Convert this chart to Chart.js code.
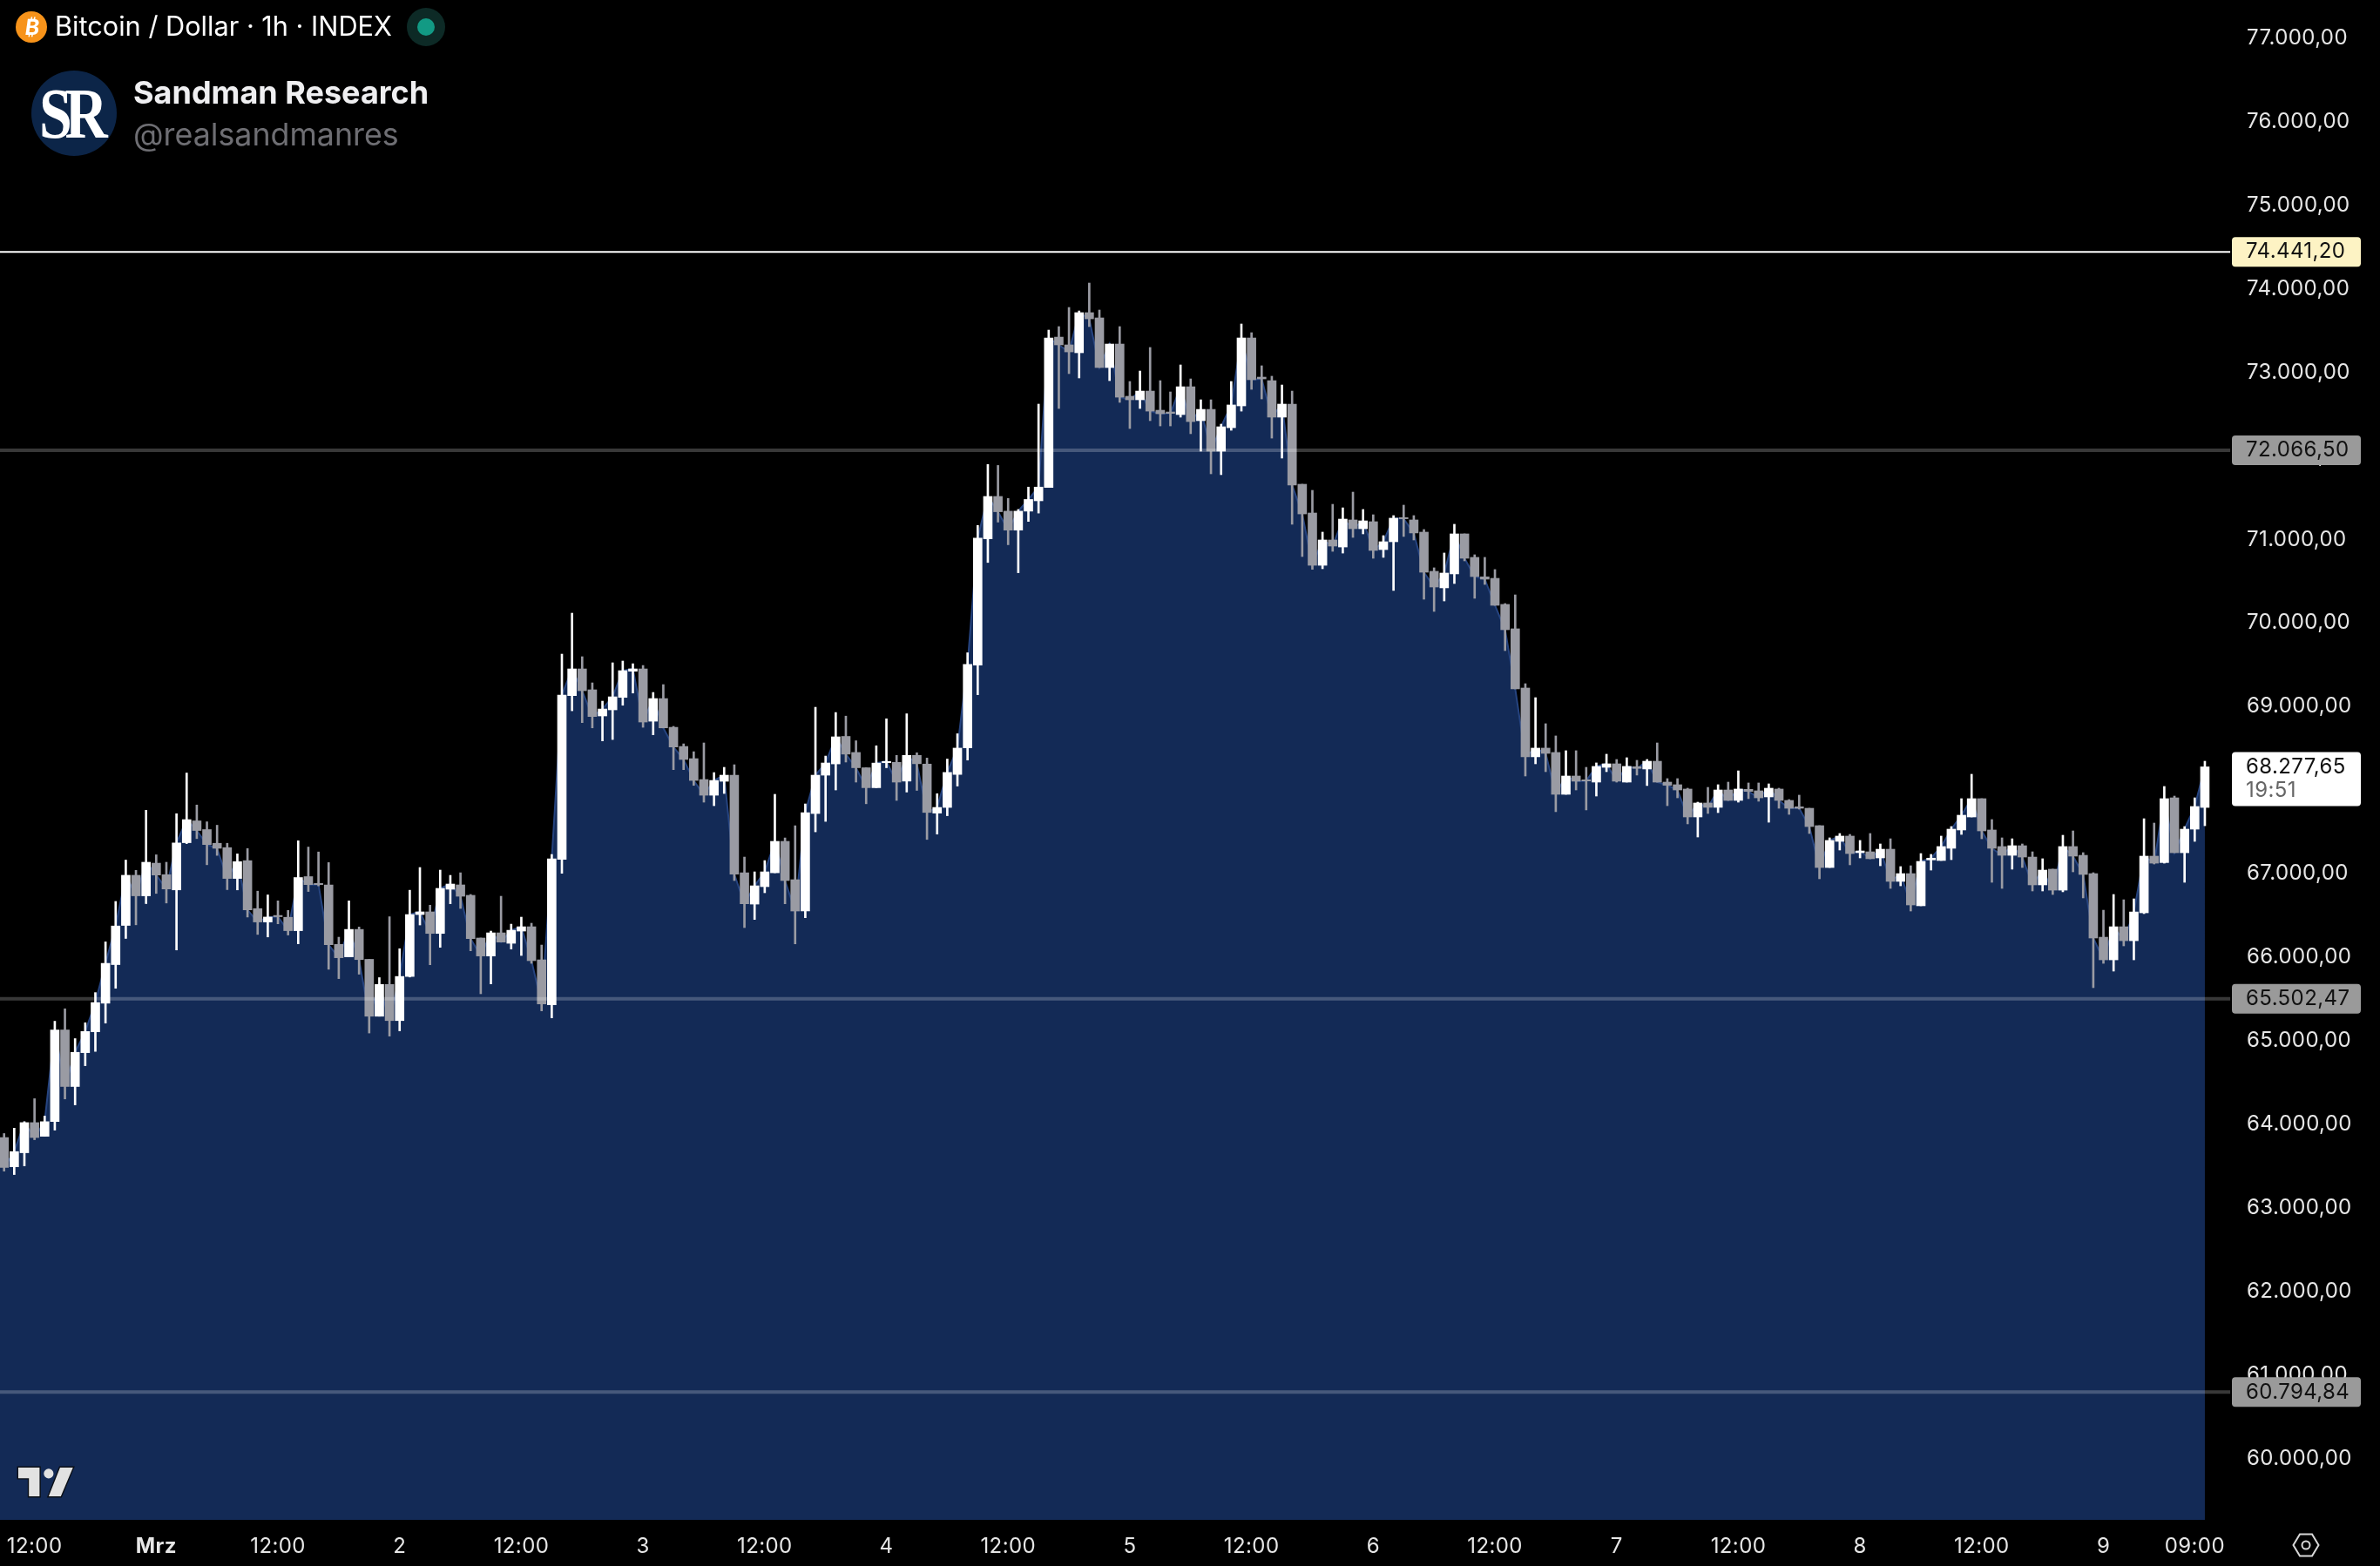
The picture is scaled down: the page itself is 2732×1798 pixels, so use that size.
<!DOCTYPE html>
<html>
<head>
<meta charset="utf-8">
<script src="https://cdn.jsdelivr.net/npm/chart.js@4"></script>
<style>
html,body{margin:0;padding:0;background:#000;width:2732px;height:1798px;overflow:hidden}
#wrap{position:relative;width:2732px;height:1798px}
canvas{position:absolute;left:0;top:0}
.t{position:absolute;white-space:nowrap;font-family:Inter,sans-serif;line-height:1}
svg{position:absolute;overflow:visible}
</style>
</head>
<body>
<div id="wrap">
<canvas id="c" width="2732" height="1798"></canvas>
<svg style="left:0;top:0" width="600" height="200">
  <circle cx="36" cy="31" r="18" fill="#f7931a"/>
  <circle cx="489" cy="31" r="22" fill="#0d2a26"/>
  <circle cx="489" cy="31" r="10" fill="#129a84"/>
  <circle cx="85" cy="130" r="49" fill="#0c2548"/>
</svg>
<div class="t" style="left:29px;top:19px;font-size:25px;font-weight:700;color:#fff;transform:skewX(-8deg)">₿</div>
<div class="t" id="title" style="left:63px;top:15px;font-size:30.700px;color:#fff">Bitcoin / Dollar · 1h · INDEX</div>
<div class="t" style="left:45px;top:90px;font-family:'Liberation Serif',serif;font-weight:700;font-size:82px;letter-spacing:-10px;color:#fff;transform:scaleX(.83);transform-origin:left center">SR</div>
<div class="t" id="nm" style="left:153px;top:88px;font-size:36px;font-weight:700;color:#efeff1">Sandman Research</div>
<div class="t" id="hd" style="left:153px;top:137px;font-size:35.800px;color:#6e6e73">@realsandmanres</div>
<svg style="left:21px;top:1683px" width="68" height="37" viewBox="0 0 39 21">
  <path d="M14 20H7V8H0V1h14zM28 20h-8l7.5-19h8.5z" fill="#e2e2e2" stroke="#0b0f16" stroke-width="1.6" paint-order="stroke"/>
  <circle cx="20" cy="5" r="3.2" fill="#e2e2e2"/>
</svg>
<svg style="left:2630px;top:1758px" width="34" height="32" viewBox="0 0 34 32">
  <path d="M10 3.5h14L31.5 16 24 28.5H10L2.500 16z" fill="none" stroke="#d8d8d8" stroke-width="2"/>
  <circle cx="17" cy="16" r="4.500" fill="none" stroke="#d8d8d8" stroke-width="2"/>
</svg>
</div>
<script>
const opens=[63841,63491,63659,64020,63856,64034,65129,64452,64857,65107,
65449,65911,66380,66980,66734,67125,66987,66805,67370,67631,
67527,67363,67311,66942,67155,66581,66421,66499,66477,66317,
66964,66883,66864,66153,66004,66332,65974,65293,65673,65241,
65769,66510,66542,66284,66813,66865,66740,66229,66014,66291,
66166,66312,66364,65968,65429,67170,69130,69450,69200,68887,
68960,69109,69422,69450,68824,69095,68751,68522,68376,68126,
67938,68105,68178,67010,66635,66844,67010,67386,66927,66552,
67719,68178,68313,68642,68450,68267,68028,68327,68331,68107,
68415,68311,67724,67792,68187,68506,69496,71007,71514,71338,
71111,71338,71462,71622,73421,73328,73234,73714,73651,73057,
73338,72713,72671,72775,72546,72525,72494,72827,72421,72556,
72056,72337,72598,73411,72942,72900,72463,72619,71660,71316,
70690,70993,70909,71233,71128,71212,70878,70972,71261,71233,
71087,70618,70420,70587,71066,70785,70552,70534,70222,69930,
69221,68398,68502,68450,67949,68168,68123,68095,68272,68314,
68095,68279,68252,68345,68095,68064,68012,67678,67845,67793,
68001,67876,68008,67991,67918,68012,67876,67800,67782,67574,
67073,67386,67449,67251,67261,67188,67292,66907,67000,66615,
67164,67157,67303,67522,67678,67897,67522,67324,67219,67334,
67198,66865,67053,66802,67324,67219,67000,66239,65968,66364,
66197,66531,67209,67132,67907,67250,67532,67792];
const highs=[63889,63953,64031,64306,64098,65233,65382,65025,65215,65576,
66183,66667,67162,67039,67758,67225,67136,67717,68204,67821,
67620,67579,67363,67236,67300,66790,66745,66674,66559,67393,
67318,67259,67132,66239,66674,66361,65974,65755,66484,66101,
66801,67073,66622,67042,66979,67010,66750,66229,66312,66729,
66395,66479,66406,66145,67229,69627,70117,69596,69283,69064,
69523,69544,69512,69491,69168,69262,68762,68553,68459,68564,
68209,68272,68303,67198,67021,67156,67949,67427,67573,67834,
68991,68407,68928,68885,68590,68267,68530,68853,68415,68913,
68446,68383,67956,68371,68674,69643,71167,71897,71885,71490,
71358,71626,72619,73505,73547,73776,73734,74068,73745,73338,
73547,72890,73015,73297,72900,72765,73088,72921,72671,72671,
72379,72890,73578,73474,73078,72953,72848,72775,71660,71587,
71087,71420,71378,71566,71358,71295,71045,71285,71410,71285,
71118,70660,70837,71181,71066,70816,70785,70639,70232,70336,
69273,69106,68794,68648,68471,68471,68272,68325,68429,68366,
68387,68356,68366,68564,68137,68137,68022,67855,68032,68064,
68095,68230,68085,68085,68074,68022,67886,67939,67782,67574,
67428,67480,67469,67397,67480,67355,67417,67084,67094,67240,
67230,67449,67563,67897,68189,67897,67647,67428,67417,67355,
67261,67178,67053,67459,67511,67251,67011,66562,66750,66687,
66698,67657,67605,68043,67928,67563,67907,68345];
const lows=[63439,63398,63502,63815,63856,63930,64303,64232,64701,64872,
65211,65628,66224,66387,66641,66763,66648,66086,67359,67419,
67106,67218,66808,66805,66480,66272,66242,66399,66265,66160,
66786,66853,65855,65743,66004,65796,65092,65293,65055,65118,
65762,66385,65909,66118,66639,66583,66076,65562,65680,66180,
66097,66020,65926,65357,65273,67004,68949,68807,68744,68588,
68605,69015,69161,68751,68661,68744,68244,68244,68056,67855,
67813,67959,66917,66354,66451,66771,67010,66639,66159,66472,
67500,67625,68001,68335,68095,67836,68028,68267,67876,67976,
67996,67409,67473,67693,68048,68359,69141,70724,71207,70936,
70601,71215,71315,71622,72567,72984,72932,73547,73057,72900,
72640,72327,72567,72421,72358,72358,72463,72265,72056,71785,
71775,72306,72535,72796,72681,72212,71973,71181,70795,70642,
70649,70857,70836,71024,71066,70774,70785,70389,71035,70993,
70284,70138,70263,70472,70743,70295,70461,70211,69669,69211,
68168,68314,68220,67741,67949,68001,67762,67928,68220,68095,
68095,68179,68054,68095,67813,67907,67595,67438,67720,67730,
67876,67855,67897,67866,67615,67782,67709,67772,67480,66938,
67073,67282,67105,67188,67178,67094,66823,66854,66552,66615,
67042,67157,67167,67469,67678,67417,66896,66823,67053,67073,
66792,66792,66750,66782,67021,66709,65635,65926,65833,66135,
65968,66521,67115,67125,67250,66896,67386,67573];
const closes=[63483,63673,64020,63841,64031,65129,64452,64861,65110,65457,
65926,66373,66980,66734,67136,66983,66816,67367,67646,67516,
67348,67303,66942,67143,66566,66421,66480,66484,66317,66953,
66868,66868,66149,65993,66332,65971,65293,65673,65241,65769,
66510,66542,66284,66823,66875,66729,66222,66014,66291,66180,
66322,66364,65958,65440,67177,69137,69450,69189,68880,68970,
69116,69429,69450,68814,69095,68744,68515,68366,68115,67938,
68115,68178,66993,66639,66854,67021,67386,66917,66552,67730,
68178,68324,68637,68430,68267,68028,68323,68343,68095,68415,
68315,67732,67792,68211,68502,69504,71015,71514,71331,71111,
71338,71478,71626,73411,73328,73244,73714,73640,73057,73338,
72702,72671,72775,72535,72504,72508,72827,72410,72556,72056,
72348,72609,73411,72911,72921,72463,72619,71650,71305,70690,
70993,70920,71243,71128,71222,70868,70972,71254,71247,71077,
70607,70430,70597,71066,70774,70555,70524,70211,69919,69211,
68398,68502,68439,67949,68168,68106,68109,68283,68314,68106,
68283,68259,68345,68095,68057,68001,67678,67845,67793,68001,
67876,68012,67984,67907,68022,67876,67782,67782,67563,67073,
67397,67449,67240,67271,67178,67292,66907,67000,66625,67146,
67185,67324,67532,67699,67897,67511,67303,67219,67334,67198,
66865,67042,66802,67324,67209,66990,66229,65968,66364,66197,
66541,67209,67125,67897,67250,67532,67803,68277.65];
const closeBeforeView=63840;
const priceTicks=[60000,61000,62000,63000,64000,65000,66000,67000,68000,69000,70000,71000,72000,73000,74000,75000,76000,77000];
const timeTickIndex=[3,15,27,39,51,63,75,87,99,111,123,135,147,159,171,183,195,207,216];
const timeTickLabels=["12:00","Mrz","12:00","2","12:00","3","12:00","4","12:00","5","12:00","6","12:00","7","12:00","8","12:00","9","09:00"];
const supportLevels=[72066.50,65502.47,60794.84];
const athLevel=74441.20;
const countdown="19:51";

const UP='#ffffff',DOWN='#9a9ba3';
const colors=closes.map((c,i)=>c>=opens[i]?UP:DOWN);
const idx=closes.map((_,i)=>i);
const deNum=v=>{const [a,b]=v.toFixed(2).split('.');return a.replace(/\B(?=(\d{3})+$)/g,'.')+','+b};
const FONT='Inter, sans-serif';
const noPadding=s=>{s.paddingTop=s.paddingBottom=s.paddingLeft=s.paddingRight=0};

const levelDataset=(v,color,w)=>({type:'line',data:[{x:-2,y:v},{x:219.5,y:v}],borderColor:color,borderWidth:w,pointRadius:0,clip:false,order:0});

const badges={
  id:'badges',
  beforeDraw(ch){ch.ctx.letterSpacing='0.4px'},
  afterDraw(ch){
    const c=ch.ctx,y=ch.scales.y;
    const box=(v,bg,txt,h2)=>{
      const p=y.getPixelForValue(v);
      c.fillStyle=bg;c.beginPath();
      c.roundRect(2562,p-17,148,h2||34,4);c.fill();
      c.font='24px '+FONT;c.textAlign='left';c.textBaseline='middle';c.fillStyle=txt;
      c.fillText(deNum(v),2578,p);
      return p;
    };
    c.save();
    box(athLevel,'#fdf3c4','#111');
    supportLevels.forEach(v=>box(v,'#9a9a9a','#111'));
    const last=closes[closes.length-1];
    const p=box(last,'#ffffff','#111',62);
    c.fillStyle='#666';c.fillText(countdown,2578,p+27);
    c.restore();
  }
};

new Chart(document.getElementById('c'),{
  type:'bar',
  data:{datasets:[
    levelDataset(athLevel,'#ffffff',2),
    ...supportLevels.map(v=>levelDataset(v,'rgba(255,255,255,0.22)',4)),
    {type:'bar',data:idx.map(i=>({x:i,y:[opens[i],closes[i]]})),backgroundColor:colors,borderWidth:0,barThickness:10,grouped:false,clip:false,order:1},
    {type:'bar',data:idx.map(i=>({x:i,y:[lows[i],highs[i]]})),backgroundColor:colors,borderWidth:0,barThickness:2,grouped:false,clip:false,order:2},
    {type:'line',data:[{x:-1,y:closeBeforeView},...idx.map(i=>({x:i,y:closes[i]}))],borderColor:'#264480',borderWidth:2,backgroundColor:'#132a56',fill:'start',pointRadius:0,tension:0,order:3}
  ]},
  options:{
    responsive:false,animation:false,devicePixelRatio:1,
    layout:{padding:0},
    plugins:{legend:{display:false},tooltip:{enabled:false}},
    scales:{
      x:{type:'linear',offset:false,min:-0.404,max:217.09,
        grid:{display:false},border:{display:false},
        afterBuildTicks(s){s.ticks=timeTickIndex.map(v=>({value:v}))},
        afterFit(s){s.height=53;noPadding(s)},
        ticks:{autoSkip:false,maxRotation:0,padding:8,color:'#e6e6e6',
          font:c=>({family:FONT,size:24,weight:c.tick&&timeTickLabels[timeTickIndex.indexOf(c.tick.value)]==='Mrz'?'700':'400'}),
          callback:(v,i)=>timeTickLabels[i]}
      },
      y:{type:'linear',position:'right',min:59265.6,max:77455.8,
        grid:{display:false},border:{display:false},
        afterBuildTicks(s){s.ticks=priceTicks.map(v=>({value:v}))},
        afterFit(s){s.width=200;noPadding(s)},
        ticks:{padding:39,color:'#e6e6e6',labelOffset:0,font:{family:FONT,size:24},callback:v=>deNum(v)}
      }
    }
  },
  plugins:[badges]
});
</script>
</body>
</html>
